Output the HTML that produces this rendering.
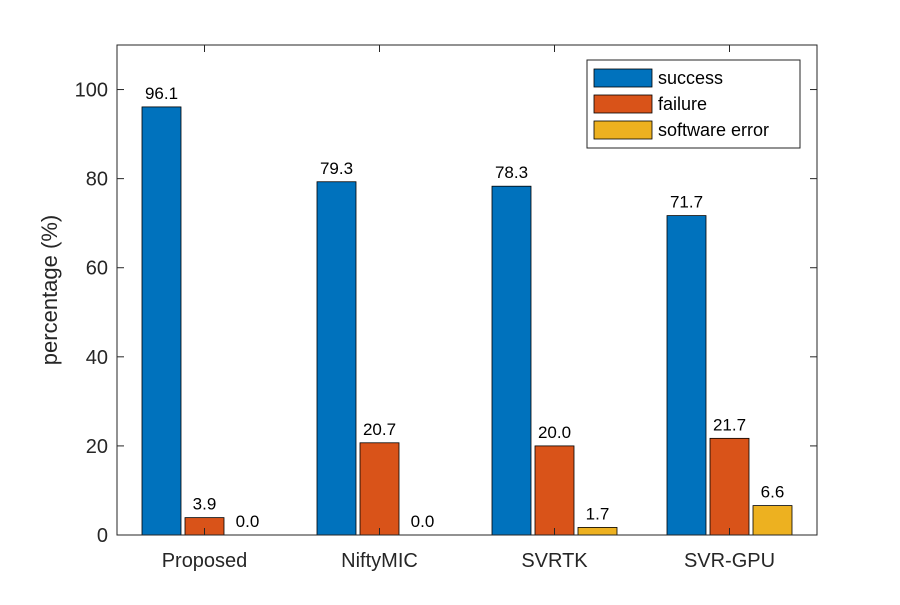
<!DOCTYPE html>
<html><head><meta charset="utf-8"><style>
body{margin:0;background:#fff}
svg text{font-family:"Liberation Sans",Arial,sans-serif}
</style></head><body>
<svg width="900" height="600" viewBox="0 0 900 600">
<rect width="900" height="600" fill="#fff"/>
<g id="plot"></g>
</svg>
<script>
const categories=["Proposed","NiftyMIC","SVRTK","SVR-GPU"];
const seriesNames=["success","failure","software error"];
const success=[96.1,79.3,78.3,71.7];
const failure=[3.9,20.7,20.0,21.7];
const softwareError=[0.0,0.0,1.7,6.6];
const yTicks=[0,20,40,60,80,100];
const colors=["#0072BD","#D95319","#EDB120"];
const L=117,R=817,T=45,B=535,yMax=110;
const ns="http://www.w3.org/2000/svg";
const g=document.getElementById('plot');
function y(v){return B-(v/yMax)*(B-T);}
function xc(i){return L+(R-L)/categories.length*(i+0.5);}
function mk(tag,attrs,parent){const e=document.createElementNS(ns,tag);for(const k in attrs)e.setAttribute(k,attrs[k]);(parent||g).appendChild(e);return e;}
const series=[success,failure,softwareError];
const bw=39,off=43;
series.forEach((s,si)=>{s.forEach((v,i)=>{
 const cx=xc(i)+(si-1)*off;
 const r=mk('rect',{x:cx-bw/2,y:y(v),width:bw,height:B-y(v),fill:colors[si],stroke:"#000","stroke-width":0.8});
 
 
 const t=mk('text',{x:cx,y:y(v)-8,"text-anchor":"middle","font-size":17,fill:"#000"});
 t.textContent=v.toFixed(1);
 
 
});});
const ax=mk('rect',{x:L,y:T,width:R-L,height:B-T,fill:"none",stroke:"#262626","stroke-width":1});


yTicks.forEach(v=>{
 mk('line',{x1:L,x2:L+7,y1:y(v),y2:y(v),stroke:"#262626"});
 mk('line',{x1:R,x2:R-7,y1:y(v),y2:y(v),stroke:"#262626"});
 const t=mk('text',{x:L-9,y:y(v)+7,"text-anchor":"end","font-size":20,fill:"#262626"});
 t.textContent=v;
 
 
});
categories.forEach((c,i)=>{
 mk('line',{x1:xc(i),x2:xc(i),y1:B,y2:B-7,stroke:"#262626"});
 mk('line',{x1:xc(i),x2:xc(i),y1:T,y2:T+7,stroke:"#262626"});
 const t=mk('text',{x:xc(i),y:B+32,"text-anchor":"middle","font-size":20,fill:"#262626"});
 t.textContent=c;
 
 
});
const yt=mk('text',{x:57,y:(T+B)/2,"text-anchor":"middle","font-size":22,fill:"#262626",transform:"rotate(-90 57 "+((T+B)/2)+")"});
yt.textContent="percentage (%)";


const lg=mk('g',{});


mk('rect',{x:587,y:60,width:213,height:88,fill:"#fff",stroke:"#262626"},lg);
seriesNames.forEach((n,si)=>{
 const yy=78+si*26;
 const sw=mk('rect',{x:594,y:yy-9,width:58,height:18,fill:colors[si],stroke:"#000","stroke-width":0.8},lg);
 
 
 const t=mk('text',{x:658,y:yy+6,"font-size":18,fill:"#000"},lg);
 t.textContent=n;
 
 
});
</script>
</body></html>
